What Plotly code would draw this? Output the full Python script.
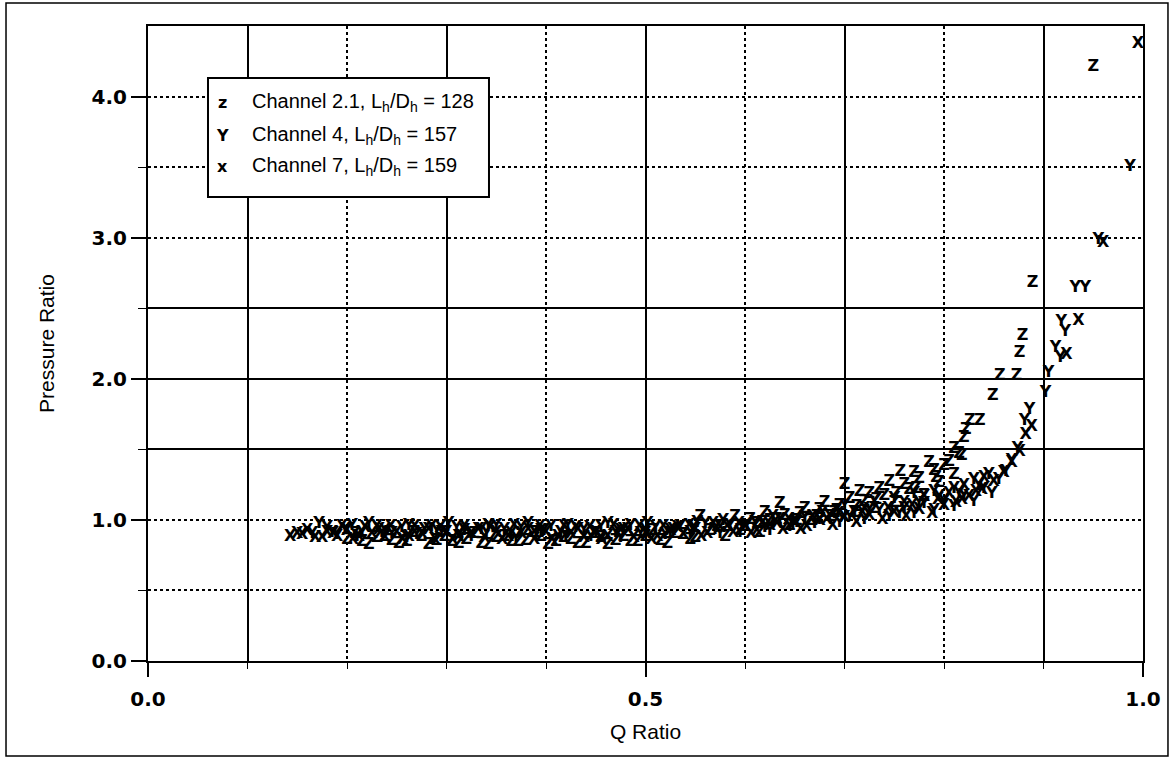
import plotly.graph_objects as go

# Channel 2.1, Lh/Dh = 128  (plotted with "Z")
ch21_q = [0.200, 0.215, 0.230, 0.245, 0.260, 0.275, 0.290, 0.305, 0.320, 0.335,
          0.350, 0.365, 0.380, 0.395, 0.410, 0.425, 0.440, 0.455, 0.470, 0.485,
          0.500, 0.515, 0.530, 0.545, 0.555, 0.565, 0.580, 0.590, 0.600, 0.615,
          0.625, 0.635, 0.645, 0.655, 0.665, 0.675, 0.685, 0.695, 0.700, 0.710,
          0.720, 0.730, 0.740, 0.750, 0.756, 0.765, 0.775, 0.780, 0.790, 0.795,
          0.805, 0.810, 0.815, 0.820, 0.822, 0.826, 0.836, 0.849, 0.856, 0.873,
          0.876, 0.879, 0.889, 0.950,
          0.208, 0.238, 0.268, 0.298, 0.328, 0.358, 0.388, 0.418, 0.448, 0.478,
          0.508, 0.538, 0.605, 0.620, 0.640, 0.660, 0.680, 0.690, 0.705, 0.715,
          0.725, 0.735, 0.745, 0.760, 0.770, 0.785, 0.800, 0.810, 0.818,
          0.222, 0.252, 0.282, 0.312, 0.342, 0.372, 0.402, 0.432, 0.462, 0.492,
          0.522, 0.550, 0.572, 0.595, 0.612, 0.632, 0.652, 0.672, 0.692, 0.712,
          0.732, 0.752, 0.772, 0.792]
ch21_p = [0.86, 0.84, 0.87, 0.85, 0.84, 0.88, 0.85, 0.84, 0.86, 0.83,
          0.87, 0.84, 0.85, 0.88, 0.84, 0.86, 0.83, 0.87, 0.85, 0.84,
          0.88, 0.85, 0.90, 0.86, 1.02, 0.92, 0.88, 1.02, 0.95, 0.91,
          0.99, 1.11, 0.96, 1.04, 0.99, 1.07, 1.02, 1.10, 1.25, 1.05,
          1.13, 1.08, 1.17, 1.12, 1.34, 1.21, 1.29, 1.17, 1.35, 1.26,
          1.41, 1.32, 1.47, 1.58, 1.64, 1.70, 1.70, 1.88, 2.02, 2.02,
          2.18, 2.30, 2.68, 4.21,
          0.90, 0.88, 0.91, 0.88, 0.90, 0.88, 0.91, 0.87, 0.90, 0.88,
          0.92, 0.89, 1.00, 1.05, 1.03, 1.08, 1.12, 1.05, 1.15, 1.20,
          1.18, 1.22, 1.27, 1.25, 1.33, 1.40, 1.38, 1.50, 1.45,
          0.82, 0.83, 0.82, 0.83, 0.82, 0.84, 0.82, 0.83, 0.82, 0.84,
          0.83, 0.87, 0.95, 0.92, 0.97, 1.00, 0.99, 1.02, 1.06, 1.09,
          1.14, 1.18, 1.22, 1.30]

# Channel 4, Lh/Dh = 157  (plotted with "Y")
ch4_q = [0.165, 0.180, 0.190, 0.205, 0.215, 0.230, 0.245, 0.255, 0.270, 0.285,
         0.295, 0.310, 0.325, 0.335, 0.350, 0.365, 0.375, 0.390, 0.405, 0.415,
         0.430, 0.445, 0.455, 0.470, 0.485, 0.495, 0.510, 0.520, 0.535, 0.545,
         0.560, 0.570, 0.585, 0.595, 0.610, 0.620, 0.635, 0.645, 0.660, 0.670,
         0.685, 0.695, 0.710, 0.720, 0.735, 0.745, 0.760, 0.770, 0.780, 0.790,
         0.800, 0.810, 0.820, 0.830, 0.840, 0.848, 0.855, 0.862, 0.868, 0.874,
         0.881, 0.886, 0.902, 0.905, 0.912, 0.917, 0.918, 0.922, 0.932, 0.942,
         0.955, 0.987,
         0.172, 0.198, 0.222, 0.238, 0.262, 0.278, 0.302, 0.318, 0.342, 0.358,
         0.382, 0.398, 0.422, 0.438, 0.462, 0.478, 0.502, 0.528, 0.552, 0.578,
         0.602, 0.628, 0.652, 0.678, 0.700, 0.730, 0.750, 0.770, 0.790, 0.810,
         0.830, 0.845,
         0.185, 0.210, 0.235, 0.260, 0.290, 0.315, 0.340, 0.370, 0.395, 0.420,
         0.450, 0.475, 0.500, 0.525, 0.548, 0.575, 0.598, 0.625, 0.648, 0.675,
         0.705, 0.725, 0.755, 0.775, 0.795, 0.815, 0.835]
ch4_p = [0.90, 0.94, 0.89, 0.96, 0.91, 0.95, 0.90, 0.94, 0.89, 0.95,
         0.91, 0.94, 0.88, 0.93, 0.96, 0.90, 0.94, 0.89, 0.95, 0.91,
         0.94, 0.88, 0.95, 0.91, 0.96, 0.90, 0.94, 0.89, 0.95, 0.91,
         0.97, 0.93, 0.96, 0.91, 0.98, 0.94, 1.00, 0.95, 1.01, 0.97,
         1.03, 0.98, 1.05, 1.00, 1.06, 1.02, 1.08, 1.04, 1.11, 1.06,
         1.13, 1.09, 1.17, 1.13, 1.22, 1.18, 1.28, 1.34, 1.42, 1.50,
         1.70, 1.78, 1.90, 2.04, 2.22, 2.15, 2.40, 2.33, 2.64, 2.64,
         2.98, 3.50,
         0.97, 0.93, 0.97, 0.92, 0.96, 0.93, 0.97, 0.92, 0.96, 0.93,
         0.97, 0.92, 0.96, 0.93, 0.97, 0.93, 0.97, 0.93, 0.98, 0.99,
         0.96, 1.02, 0.98, 1.05, 1.10, 1.13, 1.15, 1.18, 1.20, 1.22,
         1.28, 1.32,
         0.91, 0.88, 0.91, 0.87, 0.92, 0.88, 0.91, 0.87, 0.92, 0.88,
         0.91, 0.87, 0.92, 0.90, 0.94, 0.90, 0.95, 0.92, 0.97, 1.00,
         1.02, 1.07, 1.04, 1.12, 1.16, 1.18, 1.24]

# Channel 7, Lh/Dh = 159  (plotted with "X")
ch7_q = [0.143, 0.155, 0.168, 0.180, 0.190, 0.200, 0.212, 0.225, 0.238, 0.250,
         0.262, 0.275, 0.288, 0.300, 0.312, 0.325, 0.338, 0.350, 0.362, 0.375,
         0.388, 0.400, 0.412, 0.425, 0.438, 0.450, 0.462, 0.475, 0.488, 0.500,
         0.512, 0.525, 0.538, 0.550, 0.562, 0.575, 0.588, 0.600, 0.612, 0.625,
         0.638, 0.650, 0.662, 0.675, 0.688, 0.700, 0.712, 0.725, 0.738, 0.750,
         0.762, 0.775, 0.788, 0.800, 0.812, 0.825, 0.838, 0.850, 0.860, 0.868,
         0.876, 0.882, 0.888, 0.923, 0.935, 0.960, 0.995,
         0.160, 0.186, 0.206, 0.232, 0.256, 0.282, 0.306, 0.332, 0.356, 0.382,
         0.406, 0.432, 0.456, 0.482, 0.506, 0.532, 0.556, 0.582, 0.606, 0.632,
         0.656, 0.682, 0.720, 0.760, 0.780, 0.805, 0.820, 0.840,
         0.150, 0.175, 0.195, 0.218, 0.244, 0.268, 0.294, 0.318, 0.344, 0.368,
         0.394, 0.418, 0.444, 0.468, 0.494, 0.518, 0.544, 0.568, 0.594, 0.618,
         0.644, 0.668, 0.694, 0.718, 0.744, 0.768, 0.794, 0.818, 0.832]
ch7_p = [0.88, 0.89, 0.87, 0.91, 0.88, 0.92, 0.88, 0.90, 0.87, 0.91,
         0.88, 0.90, 0.86, 0.91, 0.88, 0.90, 0.87, 0.91, 0.88, 0.90,
         0.86, 0.91, 0.88, 0.90, 0.87, 0.91, 0.88, 0.92, 0.87, 0.90,
         0.88, 0.92, 0.89, 0.93, 0.90, 0.94, 0.91, 0.95, 0.92, 0.96,
         0.93, 0.98, 0.95, 0.99, 0.96, 1.01, 0.98, 1.03, 1.00, 1.05,
         1.02, 1.07, 1.04, 1.10, 1.12, 1.16, 1.21, 1.27, 1.33, 1.40,
         1.48, 1.60, 1.66, 2.17, 2.41, 2.96, 4.37,
         0.92, 0.90, 0.86, 0.93, 0.86, 0.93, 0.86, 0.93, 0.86, 0.93,
         0.86, 0.93, 0.86, 0.93, 0.86, 0.94, 0.88, 0.95, 0.90, 0.97,
         0.93, 1.00, 1.08, 1.12, 1.16, 1.18, 1.24, 1.30,
         0.90, 0.87, 0.95, 0.94, 0.95, 0.95, 0.94, 0.95, 0.94, 0.96,
         0.95, 0.95, 0.94, 0.96, 0.95, 0.95, 0.96, 0.97, 0.97, 0.98,
         1.00, 1.02, 1.04, 1.05, 1.08, 1.10, 1.14, 1.14, 1.20]

series = [
    ("Z", ch21_q, ch21_p, "Channel 2.1, L<sub>h</sub>/D<sub>h</sub> = 128", "z"),
    ("Y", ch4_q, ch4_p, "Channel 4, L<sub>h</sub>/D<sub>h</sub> = 157", "Y"),
    ("X", ch7_q, ch7_p, "Channel 7, L<sub>h</sub>/D<sub>h</sub> = 159", "x"),
]

x_labels = ["0.0", "0.5", "1.0"]
y_labels = ["0.0", "1.0", "2.0", "3.0", "4.0"]

FONT = "Liberation Sans, Arial, Helvetica, sans-serif"
BOLD = "DejaVu Sans, Liberation Sans, sans-serif"

fig = go.Figure()

for glyph, q, p, name, _ in series:
    fig.add_trace(go.Scatter(
        x=q, y=p, mode="text", text=[glyph] * len(q),
        textposition="middle center",
        textfont=dict(family=BOLD, size=16, color="black", weight="bold"),
        name=name, showlegend=False, hoverinfo="x+y",
    ))

# carrier for the labelled overlay axes
fig.add_trace(go.Scatter(x=[], y=[], xaxis="x2", yaxis="y2", showlegend=False))

fig.update_layout(
    width=1175, height=760,
    margin=dict(l=148, r=32, t=26, b=99),
    paper_bgcolor="white", plot_bgcolor="white",
    font=dict(family=FONT, color="black"),
    xaxis=dict(
        range=[0, 1], tickvals=[0.1, 0.3, 0.5, 0.7, 0.9],
        showticklabels=False, ticks="outside", ticklen=6, tickwidth=1.4,
        tickcolor="black",
        showgrid=True, gridcolor="black", gridwidth=1.6,
        minor=dict(tickvals=[0.2, 0.4, 0.6, 0.8], ticks="outside", ticklen=6,
                   tickcolor="black", showgrid=True, gridcolor="black",
                   griddash="dot", gridwidth=1.6),
        showline=True, linecolor="black", linewidth=2, mirror=True,
        zeroline=False, fixedrange=True,
    ),
    yaxis=dict(
        range=[0, 4.5], tickvals=[1.5, 2.0, 2.5],
        showticklabels=False, ticks="outside", ticklen=8, tickwidth=1.4,
        tickcolor="black",
        showgrid=True, gridcolor="black", gridwidth=1.6,
        minor=dict(tickvals=[0.5, 1.0, 3.0, 3.5, 4.0], ticks="outside", ticklen=8,
                   tickcolor="black", showgrid=True, gridcolor="black",
                   griddash="dot", gridwidth=1.6),
        showline=True, linecolor="black", linewidth=2, mirror=True,
        zeroline=False, fixedrange=True,
    ),
    xaxis2=dict(
        overlaying="x", anchor="y2", side="bottom", range=[0, 1],
        tickvals=[0, 0.5, 1.0], ticktext=x_labels,
        ticks="outside", ticklen=15, tickwidth=1.6, tickcolor="black",
        ticklabelstandoff=5,
        tickfont=dict(family=BOLD, size=20, weight="bold"),
        showgrid=False, zeroline=False, showline=False,
        title=dict(text="Q Ratio", font=dict(family=FONT, size=21), standoff=14),
        fixedrange=True,
    ),
    yaxis2=dict(
        overlaying="y", anchor="x2", side="left", range=[0, 4.5],
        tickvals=[0, 1, 2, 3, 4], ticktext=y_labels,
        ticks="outside", ticklen=16, tickwidth=1.6, tickcolor="black",
        tickfont=dict(family=BOLD, size=20, weight="bold"),
        showgrid=False, zeroline=False, showline=False,
        title=dict(text="Pressure Ratio", font=dict(family=FONT, size=21), standoff=31),
        fixedrange=True,
    ),
)

# outer frame around the whole graphic
fig.add_shape(type="rect", xref="paper", yref="paper",
              x0=-0.1427, x1=1.0251, y0=-0.1496, y1=1.0362,
              line=dict(color="black", width=1.5), fillcolor="rgba(0,0,0,0)",
              layer="below")

# legend box with glyph keys
fig.add_shape(type="rect", xref="paper", yref="paper",
              x0=0.0603, x1=0.3427, y0=0.7307, y1=0.9181,
              line=dict(color="black", width=2), fillcolor="white", layer="above")
rows = [0.8803, 0.8283, 0.7795]
for (glyph, q, p, name, key), ry in zip(series, rows):
    fig.add_annotation(xref="paper", yref="paper", x=0.0744, y=ry,
                       text=key, showarrow=False, xanchor="center", yanchor="middle",
                       font=dict(family=BOLD, size=16, color="black", weight="bold"))
    fig.add_annotation(xref="paper", yref="paper", x=0.1025, y=ry,
                       text=name, showarrow=False, xanchor="left", yanchor="middle",
                       font=dict(family=FONT, size=20, color="black"))

fig.write_html("out.html")
